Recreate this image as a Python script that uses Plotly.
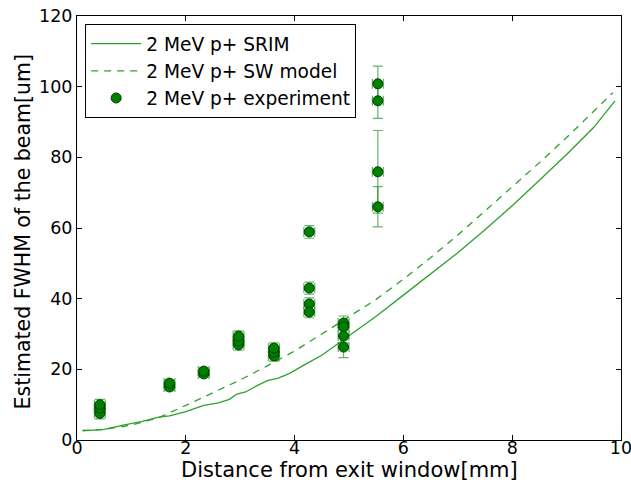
import plotly.graph_objects as go

# SRIM curve
srim_x = [0.1, 0.5, 0.85, 1.2, 1.5, 1.7, 2.0, 2.33, 2.6, 2.8, 2.94, 3.1, 3.3, 3.5, 3.7, 3.9, 4.17,
          4.5, 5.0, 5.5, 6.0, 6.5, 7.0, 7.5, 8.0, 8.5, 9.0, 9.5, 9.89]
srim_y = [2.6, 3.0, 4.2, 5.3, 6.5, 6.8, 8.0, 9.8, 10.5, 11.5, 13.0, 13.6, 15.3, 16.8, 17.5, 18.8, 21.2,
          24.0, 29.5, 35.0, 41.0, 47.0, 53.0, 59.5, 66.3, 73.5, 80.8, 88.5, 96.0]

# SW model curve
sw_x = [0.1, 0.5, 1.0, 1.5, 2.0, 2.5, 3.0, 3.5, 4.0, 4.5, 5.0, 5.5, 6.0, 6.5, 7.0, 7.5, 8.0, 8.5,
        9.0, 9.5, 9.85]
sw_y = [2.7, 3.0, 4.2, 6.3, 9.8, 13.5, 17.0, 21.0, 25.2, 30.0, 34.8, 39.8, 45.5, 51.6, 58.0, 64.8,
        71.6, 78.5, 85.6, 93.0, 98.3]

# Experiment
exp_x = [0.42, 0.42, 0.42, 1.7, 1.7, 2.33, 2.33, 2.97, 2.97, 2.97, 3.62, 3.62, 3.62,
         4.27, 4.27, 4.27, 4.27, 4.9, 4.9, 4.9, 4.9, 5.53, 5.53, 5.53, 5.53]
exp_y = [7.5, 9.0, 10.0, 15.0, 16.1, 18.7, 19.5, 26.9, 28.0, 29.4, 23.8, 24.9, 26.0,
         58.9, 43.0, 38.5, 36.2, 33.1, 32.0, 29.4, 26.3, 100.8, 96.0, 75.9, 66.0]
exp_yerr = [1.5, 1.5, 1.5, 1.0, 1.0, 1.0, 1.0, 1.5, 1.5, 1.5, 1.5, 1.5, 1.5,
            1.8, 1.7, 1.7, 1.6, 2.0, 2.0, 2.0, 3.0, 5.0, 5.0, 11.7, 5.7]
exp_xerr = [0.1] * len(exp_x)

x_title = "Distance from exit window[mm]"
y_title = "Estimated FWHM of the beam[um]"

line_green = "#2ea02e"
err_green = "rgba(0,128,0,0.6)"

fig = go.Figure()
fig.add_trace(go.Scatter(x=srim_x, y=srim_y, mode="lines", name="2 MeV p+ SRIM",
                         line=dict(color=line_green, width=1.3)))
fig.add_trace(go.Scatter(x=sw_x, y=sw_y, mode="lines", name="2 MeV p+ SW model",
                         line=dict(color=line_green, width=1.3, dash="7px,6px")))
fig.add_trace(go.Scatter(
    x=exp_x, y=exp_y, mode="markers", name="2 MeV p+ experiment",
    marker=dict(color="#008000", size=10, line=dict(color="#004000", width=1)),
    error_y=dict(type="data", array=exp_yerr, color=err_green, thickness=1.2, width=5),
    error_x=dict(type="data", array=exp_xerr, color=err_green, thickness=1.2, width=5),
))

font_family = "DejaVu Sans"
axis_common = dict(
    showline=True, linecolor="black", linewidth=1, mirror="ticks",
    ticks="inside", ticklen=5, tickcolor="black", showgrid=False, zeroline=False,
    automargin=False, ticklabeloverflow="allow",
    tickfont=dict(family=font_family, size=17.5, color="black"),
)

fig.update_layout(
    width=631, height=493,
    margin=dict(l=77, r=10, t=16, b=53),
    paper_bgcolor="white", plot_bgcolor="white",
    font=dict(family=font_family, color="black"),
    xaxis=dict(range=[0, 10], dtick=2, ticklabelstandoff=-8, **axis_common),
    yaxis=dict(range=[0, 120], dtick=20, **axis_common),
    legend=dict(x=0.015, y=0.981, xanchor="left", yanchor="top",
                bgcolor="white", bordercolor="black", borderwidth=1,
                font=dict(family=font_family, size=18.6, color="black"),
                itemwidth=50, tracegroupgap=0),
    showlegend=True,
    annotations=[
        dict(text=x_title, xref="paper", yref="paper", x=0.5, y=-0.070,
             xanchor="center", yanchor="middle", showarrow=False,
             font=dict(family=font_family, size=21, color="black")),
        dict(text=y_title, xref="paper", yref="paper", x=-0.099, y=0.49,
             xanchor="center", yanchor="middle", showarrow=False, textangle=-90,
             font=dict(family=font_family, size=20.5, color="black")),
    ],
)

fig.write_html("out.html", config={"displayModeBar": False},
               post_script="document.body.style.margin='0';")
